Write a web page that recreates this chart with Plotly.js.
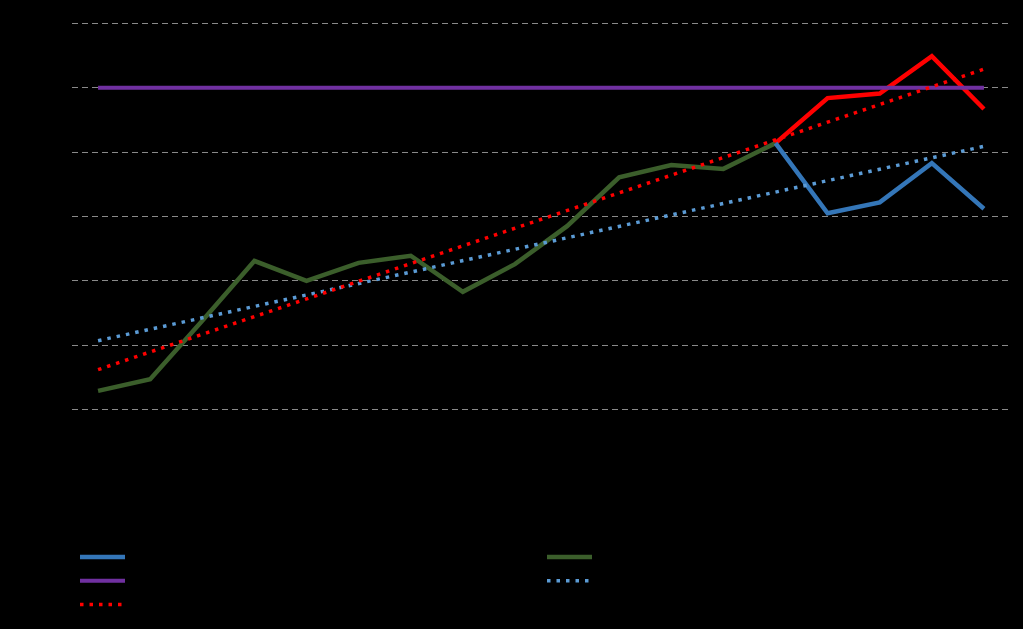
<!DOCTYPE html>
<html>
<head>
<meta charset="utf-8">
<script src="https://cdn.plot.ly/plotly-3.0.1.min.js"></script>
<style>html,body{margin:0;padding:0;background:#000;}#chart{width:1023px;height:629px;}</style>
</head>
<body>
<div id="chart"></div>
<script>
var categories = ['2000','2001','2002','2003','2004','2005','2006','2007','2008','2009','2010','2011','2012','2013','2014','2015','2016','2017'];
var historyCats = categories.slice(0, 14);
var historyVals = [2.9, 4.7, 13.8, 23.1, 20.0, 22.8, 23.9, 18.3, 22.6, 28.5, 36.1, 38.0, 37.4, 41.4];
var lowCats = categories.slice(13);
var lowVals = [41.4, 30.5, 32.2, 38.3, 31.2];
var highCats = categories.slice(13);
var highVals = [41.4, 48.4, 49.1, 54.9, 46.7];
var targetVals = [50, 50];
var trendLowVals = [10.7, 40.9];
var trendHighVals = [6.2, 52.9];
var trendCats = [categories[0], categories[categories.length - 1]];

var traces = [
  {x: historyCats, y: historyVals, mode: 'lines', name: 'Historical', legendrank: 2,
   line: {color: '#3B5E2B', width: 4.5}},
  {x: highCats, y: highVals, mode: 'lines', name: 'High', showlegend: false,
   line: {color: '#FF0000', width: 4.5}},
  {x: lowCats, y: lowVals, mode: 'lines', name: 'Low', legendrank: 1,
   line: {color: '#3476B8', width: 4.5}},
  {x: trendCats, y: targetVals, mode: 'lines', name: 'Target', legendrank: 3,
   line: {color: '#7030A0', width: 4}},
  {x: trendCats, y: trendLowVals, mode: 'lines', name: 'Linear (Low)', legendrank: 4,
   line: {color: '#5B9BD5', width: 3.5, dash: '3.5px,6px'}},
  {x: trendCats, y: trendHighVals, mode: 'lines', name: 'Linear (High)', legendrank: 5,
   line: {color: '#FF0000', width: 3.5, dash: '3.5px,6px'}}
];

var layout = {
  width: 1023, height: 629,
  paper_bgcolor: '#000', plot_bgcolor: '#000',
  margin: {l: 72, r: 13, t: 16.5, b: 212.5},
  font: {family: 'Liberation Sans, Arial, sans-serif', size: 16, color: '#000'},
  xaxis: {type: 'category', categoryorder: 'array', categoryarray: categories,
          range: [-0.5, 17.5], showgrid: false, zeroline: false,
          showline: false, ticks: '', tickfont: {color: '#000'}},
  yaxis: {range: [-1, 61], tickvals: [0, 10, 20, 30, 40, 50, 60], showgrid: true,
          gridcolor: '#8a8a8a', gridwidth: 1,
          griddash: '6px,4px', zeroline: false, showline: false, ticks: '',
          tickfont: {color: '#000'}},
  showlegend: true,
  legend: {orientation: 'h', xref: 'container', yref: 'container',
           x: 75 / 1023, y: 1 - 540 / 629, xanchor: 'left', yanchor: 'top',
           entrywidth: 407, entrywidthmode: 'pixels', traceorder: 'normal',
           itemwidth: 45,
           bgcolor: 'rgba(0,0,0,0)', font: {size: 16, color: '#000'}}
};

Plotly.newPlot('chart', traces, layout, {displayModeBar: false, staticPlot: true});
</script>
</body>
</html>
